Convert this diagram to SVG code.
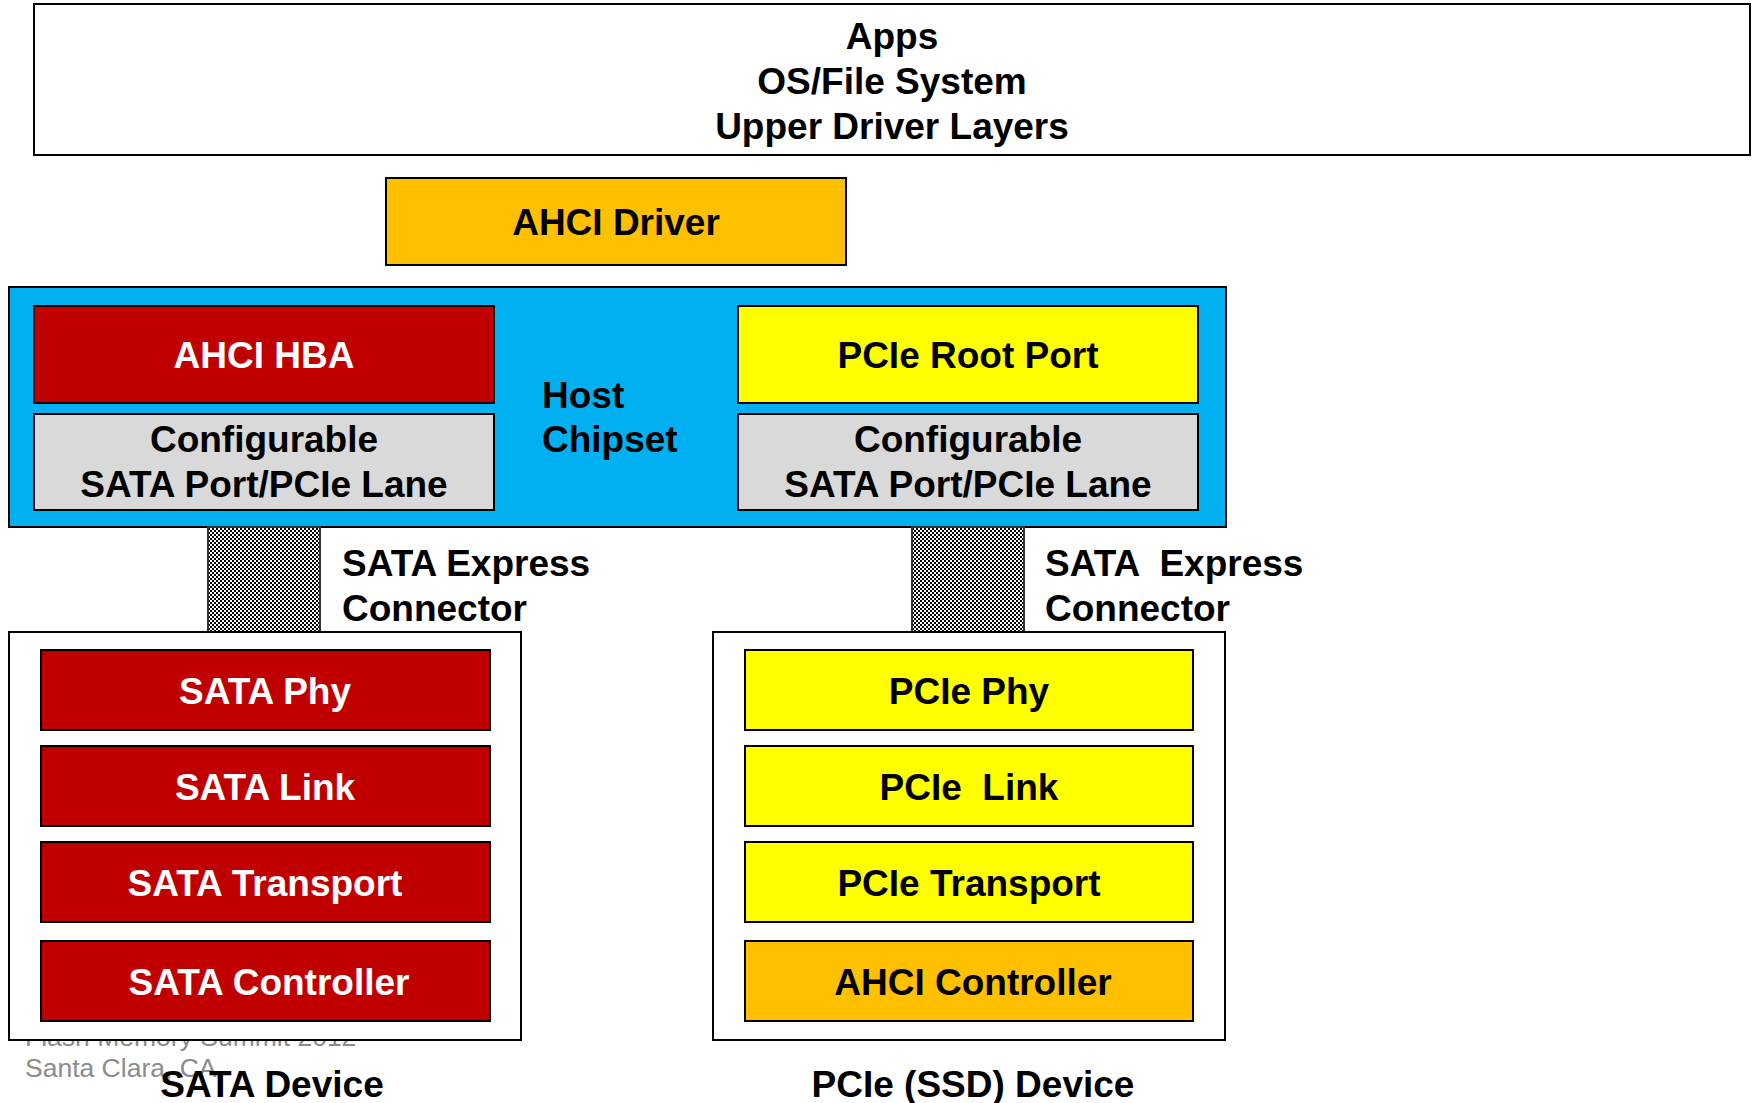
<svg xmlns="http://www.w3.org/2000/svg" width="1752" height="1103" viewBox="0 0 1752 1103">
  <defs>
    <!-- fine black/white checker used for the connector bars -->
    <pattern id="checker" width="4" height="4" patternUnits="userSpaceOnUse">
      <rect width="4" height="4" fill="#ffffff"/>
      <rect width="2" height="2" fill="#000000"/>
      <rect x="2" y="2" width="2" height="2" fill="#000000"/>
    </pattern>
    <style>
      text { font-family: "Liberation Sans", Arial, sans-serif; font-weight: bold; font-size: 37px; fill: #000; }
      .c { text-anchor: middle; }
      .w { fill: #ffffff; }
      .pre { white-space: pre; }
      .box { stroke: #000; stroke-width: 2; }
      .white { fill: #ffffff; }
      .red { fill: #C00000; }
      .yellow { fill: #FFFF00; }
      .orange { fill: #FFC000; }
      .grey { fill: #D9D9D9; }
      .blue { fill: #00B0F0; }
      .mark { font-weight: normal; font-size: 26.5px; fill: #8C8C8C; }
    </style>
  </defs>

  <rect width="1752" height="1103" fill="#ffffff"/>

  <!-- software stack -->
  <g id="upper-layers">
    <rect class="box white" x="34" y="4" width="1716" height="151"/>
    <text class="c" x="892" y="49">Apps</text>
    <text class="c" x="892" y="94">OS/File System</text>
    <text class="c" x="892" y="139">Upper Driver Layers</text>
  </g>

  <g id="ahci-driver">
    <rect class="box orange" x="386" y="178" width="460" height="87"/>
    <text class="c" x="616" y="235">AHCI Driver</text>
  </g>

  <!-- host chipset -->
  <g id="host-chipset">
    <rect class="box blue" x="9" y="287" width="1217" height="240"/>
    <text x="542" y="408">Host</text>
    <text x="542" y="452">Chipset</text>
  </g>

  <g id="ahci-hba">
    <rect class="box red" x="34" y="306" width="460" height="97"/>
    <text class="c w" x="264" y="368">AHCI HBA</text>
  </g>

  <g id="port-left">
    <rect class="box grey" x="34" y="414" width="460" height="96"/>
    <text class="c" x="264" y="452">Configurable</text>
    <text class="c" x="264" y="497">SATA Port/PCIe Lane</text>
  </g>

  <g id="pcie-root-port">
    <rect class="box yellow" x="738" y="306" width="460" height="97"/>
    <text class="c" x="968" y="368">PCIe Root Port</text>
  </g>

  <g id="port-right">
    <rect class="box grey" x="738" y="414" width="460" height="96"/>
    <text class="c" x="968" y="452">Configurable</text>
    <text class="c" x="968" y="497">SATA Port/PCIe Lane</text>
  </g>

  <!-- connector bars between chipset and devices -->
  <g id="connectors">
    <rect x="208" y="527" width="112" height="105" fill="url(#checker)" stroke="#333" stroke-width="2"/>
    <rect x="912" y="527" width="112" height="105" fill="url(#checker)" stroke="#333" stroke-width="2"/>
  </g>

  <g id="connector-label-left">
    <text x="342" y="576">SATA Express</text>
    <text x="342" y="621">Connector</text>
  </g>

  <g id="connector-label-right">
    <text class="pre" x="1045" y="576">SATA  Express</text>
    <text x="1045" y="621">Connector</text>
  </g>

  <!-- footer mark, partly hidden under the SATA device frame -->
  <g id="footer-mark">
    <text class="mark" x="25" y="1046">Flash Memory Summit 2012</text>
    <text class="mark" x="25" y="1077">Santa Clara, CA</text>
  </g>

  <!-- SATA device -->
  <g id="sata-device">
    <rect class="box white" x="9" y="632" width="512" height="408"/>
    <text class="c" x="272" y="1097">SATA Device</text>
  </g>
  <g id="sata-phy">
    <rect class="box red" x="41" y="650" width="449" height="80"/>
    <text class="c w" x="265" y="704">SATA Phy</text>
  </g>
  <g id="sata-link">
    <rect class="box red" x="41" y="746" width="449" height="80"/>
    <text class="c w" x="265" y="800">SATA Link</text>
  </g>
  <g id="sata-transport">
    <rect class="box red" x="41" y="842" width="449" height="80"/>
    <text class="c w" x="265" y="896">SATA Transport</text>
  </g>
  <g id="sata-controller">
    <rect class="box red" x="41" y="941" width="449" height="80"/>
    <text class="c w" x="269" y="995">SATA Controller</text>
  </g>

  <!-- PCIe device -->
  <g id="pcie-device">
    <rect class="box white" x="713" y="632" width="512" height="408"/>
    <text class="c" x="973" y="1097">PCIe (SSD) Device</text>
  </g>
  <g id="pcie-phy">
    <rect class="box yellow" x="745" y="650" width="448" height="80"/>
    <text class="c" x="969" y="704">PCIe Phy</text>
  </g>
  <g id="pcie-link">
    <rect class="box yellow" x="745" y="746" width="448" height="80"/>
    <text class="c pre" x="969" y="800">PCIe  Link</text>
  </g>
  <g id="pcie-transport">
    <rect class="box yellow" x="745" y="842" width="448" height="80"/>
    <text class="c" x="969" y="896">PCIe Transport</text>
  </g>
  <g id="ahci-controller">
    <rect class="box orange" x="745" y="941" width="448" height="80"/>
    <text class="c" x="973" y="995">AHCI Controller</text>
  </g>
</svg>
